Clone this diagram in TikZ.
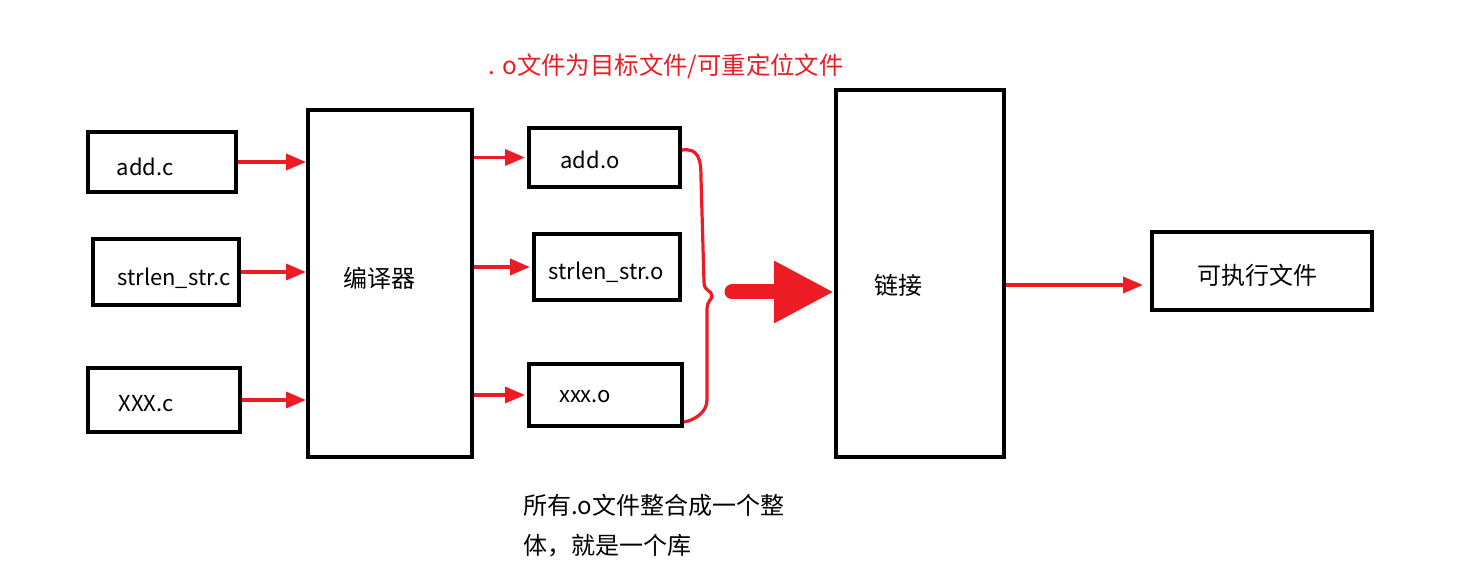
\documentclass[tikz,border=0pt]{standalone}
\usepackage{fontspec}
\setmainfont{Noto Sans CJK SC}
\usetikzlibrary{arrows.meta}
\definecolor{myred}{RGB}{237,28,36}
\begin{document}
\begin{tikzpicture}[x=0.5pt,y=-0.5pt,
  box/.style={draw=black,line width=2pt,inner sep=0pt},
  lbl/.style={font=\fontsize{11pt}{13pt}\selectfont,inner sep=0pt},
  cjk/.style={font=\fontsize{12pt}{14pt}\selectfont,inner sep=0pt},
  redarrow/.style={draw=myred,line width=1.8pt,-{Triangle[length=10pt,width=8pt]}}]
\useasboundingbox[fill=white] (0,0) rectangle (1458,577);
% boxes
\node[box,minimum width=74pt,minimum height=30pt] (addc) at (162,162) {};
\node[box,minimum width=73pt,minimum height=33pt] (strc) at (166,272) {};
\node[box,minimum width=76pt,minimum height=32pt] (xxxc) at (164,400) {};
\node[box,minimum width=82pt,minimum height=173.5pt] (comp) at (390,283.5) {};
\node[box,minimum width=75.5pt,minimum height=29.5pt] (addo) at (604.5,157.5) {};
\node[box,minimum width=73pt,minimum height=33pt] (stro) at (607,267) {};
\node[box,minimum width=76.5pt,minimum height=31pt] (xxxo) at (605.5,395) {};
\node[box,minimum width=84pt,minimum height=183.5pt] (link) at (920,273.5) {};
\node[box,minimum width=110pt,minimum height=39pt] (exe) at (1262,271) {};
% labels
\node[lbl] (taddc) at (145,167) {add.c};
\node[lbl] (tstrc) at (174,278) {strlen\_str.c};
\node[lbl] (txxxc) at (146,404) {XXX.c};
\node[cjk] (tcomp) at (379,278) {编译器};
\node[lbl] (taddo) at (590,160) {add.o};
\node[lbl] (tstro) at (606,272) {strlen\_str.o};
\node[lbl] (txxxo) at (585,397) {xxx.o};
\node[cjk] (tlink) at (898,285) {链接};
\node[cjk] (texe) at (1257,275) {可执行文件};
\node[cjk,text=myred,font=\fontsize{12.2pt}{14pt}\selectfont] (ttop) at (666,66) {. o文件为目标文件/可重定位文件};
\node[cjk,anchor=north west,align=left,font=\fontsize{12pt}{20pt}\selectfont] (tbot) at (523,494) {所有.o文件整合成一个整\\体，就是一个库};
% arrows into compiler
\draw[redarrow] (addc.east) -- (comp.west |- addc.east);
\draw[redarrow] (strc.east) -- (comp.west |- strc.east);
\draw[redarrow] (xxxc.east) -- (comp.west |- xxxc.east);
% arrows out of compiler
\draw[redarrow] (comp.east |- addo.west) -- ([xshift=-1pt]addo.west);
\draw[redarrow] (comp.east |- stro.west) -- ([xshift=-1pt]stro.west);
\draw[redarrow] (comp.east |- xxxo.west) -- ([xshift=-1pt]xxxo.west);
% brace
\draw[myred,line width=1.6pt,line join=round] ([yshift=3.75pt]addo.east)
  .. controls (698,148) and (701,158) .. (701,178) -- (704,282)
  .. controls (704,292) and (712,290) .. (712,296)
  .. controls (712,300) and (707,300) .. (707,310) -- (707,400)
  .. controls (707,412) and (695,420) .. ([yshift=-13.5pt]xxxo.east);
% big arrow
\coordinate (b2) at ([yshift=-9.25pt]link.west);
\coordinate (b1) at (732,292);
\draw[myred,line width=7.5pt,line cap=round,-{Triangle[length=30pt,width=29pt]}] (b1) -- (b2);
% link -> exe
\coordinate (e1) at ([yshift=-5.75pt]link.east);
\coordinate (e2) at (e1 -| exe.west);
\draw[redarrow] (e1) -- ([xshift=-3.5pt]e2);
\end{tikzpicture}
\end{document}
